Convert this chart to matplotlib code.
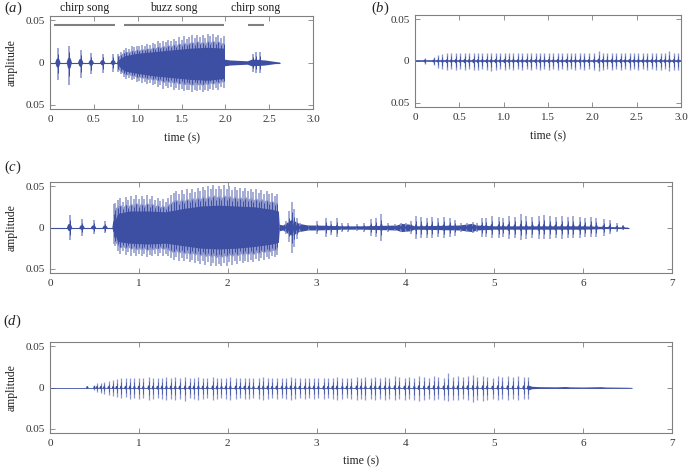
import numpy as np
import matplotlib
matplotlib.use("Agg")
import matplotlib.pyplot as plt
import matplotlib.transforms as mtransforms

plt.rcParams['font.family'] = ['Liberation Serif', 'DejaVu Serif']
plt.rcParams['mathtext.fontset'] = 'custom'
plt.rcParams['mathtext.rm'] = 'Liberation Serif'
plt.rcParams['mathtext.it'] = 'Liberation Serif:italic'

DARK = '#3c4fa3'
LIGHT = '#8e97cc'
GRAY = '#808080'

# ---------------- panel (a) ----------------
a_chirp_t = [0.09, 0.22, 0.35, 0.47, 0.60, 0.72, 2.31, 2.35, 2.39]
a_chirp_up = [0.017, 0.020, 0.015, 0.011, 0.010, 0.010, 0.010, 0.013, 0.012]
a_chirp_dn = [-0.021, -0.027, -0.018, -0.014, -0.012, -0.011, -0.011, -0.012, -0.013]

a_buzz_t = [0.78, 0.81, 0.84, 0.87, 0.90, 0.93, 0.96, 0.99, 1.02, 1.05,
            1.08, 1.11, 1.14, 1.17, 1.20, 1.23, 1.26, 1.29, 1.32, 1.35,
            1.38, 1.41, 1.44, 1.47, 1.50, 1.53, 1.56, 1.59, 1.62, 1.65,
            1.68, 1.71, 1.74, 1.77, 1.80, 1.83, 1.86, 1.89, 1.92, 1.95, 1.98]
a_buzz_up = [0.010, 0.013, 0.015, 0.017, 0.016, 0.019, 0.018, 0.020, 0.019, 0.021,
             0.020, 0.022, 0.021, 0.023, 0.022, 0.025, 0.023, 0.026, 0.024, 0.027,
             0.025, 0.028, 0.026, 0.030, 0.027, 0.031, 0.028, 0.030, 0.032, 0.029,
             0.033, 0.030, 0.032, 0.029, 0.034, 0.031, 0.034, 0.030, 0.033, 0.029, 0.031]
a_buzz_dn = [-0.011, -0.014, -0.017, -0.019, -0.018, -0.021, -0.020, -0.023, -0.022, -0.024,
             -0.023, -0.026, -0.024, -0.027, -0.025, -0.029, -0.027, -0.031, -0.028, -0.030,
             -0.029, -0.032, -0.030, -0.033, -0.031, -0.034, -0.032, -0.033, -0.035, -0.032,
             -0.034, -0.033, -0.035, -0.032, -0.034, -0.031, -0.033, -0.030, -0.032, -0.029, -0.030]
a_core_t = [0.76, 0.80, 0.85, 1.00, 1.20, 1.40, 1.60, 1.80, 1.98, 1.99]
a_core_up = [0.001, 0.005, 0.008, 0.011, 0.013, 0.015, 0.017, 0.018, 0.017, 0.003]
a_core_dn = [-0.001, -0.006, -0.010, -0.013, -0.016, -0.018, -0.020, -0.021, -0.019, -0.003]
a_noise_t = [1.99, 2.05, 2.15, 2.25, 2.30, 2.45, 2.55, 2.62]
a_noise_amp = [0.004, 0.003, 0.0025, 0.002, 0.004, 0.003, 0.0015, 0.0005]
a_end = 2.62
a_seg_names = ['chirp song', 'buzz song', 'chirp song']
a_seg_start = [0.05, 0.84, 2.26]
a_seg_end = [0.74, 1.99, 2.44]

# ---------------- panel (b) ----------------
b_t = [0.11, 0.21, 0.26, 0.31, 0.36, 0.41, 0.46, 0.51, 0.56, 0.61,
       0.66, 0.71, 0.76, 0.81, 0.86, 0.91, 0.96, 1.01, 1.06, 1.11,
       1.16, 1.21, 1.26, 1.31, 1.36, 1.41, 1.46, 1.51, 1.56, 1.61,
       1.66, 1.71, 1.76, 1.81, 1.86, 1.91, 1.96, 2.02, 2.07, 2.12,
       2.17, 2.22, 2.27, 2.32, 2.37, 2.42, 2.47, 2.52, 2.57, 2.62,
       2.67, 2.72, 2.77, 2.82, 2.87, 2.92, 2.97]
b_up = [0.004, 0.005, 0.007, 0.008, 0.009, 0.009, 0.010, 0.009, 0.010, 0.009,
        0.010, 0.009, 0.010, 0.009, 0.010, 0.010, 0.009, 0.010, 0.009, 0.010,
        0.009, 0.010, 0.009, 0.010, 0.009, 0.010, 0.009, 0.010, 0.009, 0.010,
        0.009, 0.010, 0.009, 0.010, 0.009, 0.010, 0.009, 0.010, 0.012, 0.010,
        0.009, 0.010, 0.009, 0.010, 0.009, 0.010, 0.009, 0.010, 0.009, 0.010,
        0.009, 0.010, 0.010, 0.009, 0.012, 0.010, 0.010]
b_dn = [-0.003, -0.005, -0.008, -0.010, -0.011, -0.010, -0.011, -0.010, -0.011, -0.010,
        -0.011, -0.011, -0.010, -0.011, -0.012, -0.011, -0.010, -0.011, -0.010, -0.011,
        -0.010, -0.011, -0.010, -0.011, -0.010, -0.011, -0.010, -0.011, -0.010, -0.011,
        -0.010, -0.011, -0.010, -0.011, -0.010, -0.011, -0.010, -0.011, -0.012, -0.011,
        -0.010, -0.011, -0.010, -0.011, -0.010, -0.011, -0.010, -0.011, -0.010, -0.011,
        -0.010, -0.011, -0.011, -0.010, -0.012, -0.011, -0.011]

# ---------------- panel (c) ----------------
c_chirp_t = [0.22, 0.36, 0.49, 0.62]
c_chirp_up = [0.015, 0.010, 0.009, 0.008]
c_chirp_dn = [-0.015, -0.010, -0.008, -0.007]
c_buzz_t = [0.73, 0.76, 0.79, 0.82, 0.85, 0.88, 0.91, 0.94, 0.97, 1.00,
            1.03, 1.06, 1.09, 1.12, 1.15, 1.18, 1.21, 1.24, 1.27, 1.30,
            1.33, 1.36, 1.39, 1.42, 1.45, 1.48, 1.51, 1.54, 1.57, 1.60,
            1.63, 1.66, 1.69, 1.72, 1.75, 1.78, 1.81, 1.84, 1.87, 1.90,
            1.93, 1.96, 1.99, 2.02, 2.05, 2.08, 2.11, 2.14, 2.17, 2.20,
            2.23, 2.26, 2.29, 2.32, 2.35, 2.38, 2.41, 2.44, 2.47, 2.50,
            2.53, 2.56]
c_buzz_up = [0.030, 0.033, 0.036, 0.031, 0.037, 0.033, 0.038, 0.034, 0.039, 0.035,
             0.038, 0.034, 0.039, 0.035, 0.038, 0.033, 0.036, 0.032, 0.035, 0.031,
             0.036, 0.039, 0.042, 0.044, 0.040, 0.045, 0.041, 0.046, 0.042, 0.047,
             0.043, 0.048, 0.044, 0.049, 0.045, 0.050, 0.046, 0.051, 0.047, 0.050,
             0.046, 0.051, 0.047, 0.050, 0.045, 0.049, 0.045, 0.048, 0.044, 0.048,
             0.044, 0.047, 0.043, 0.046, 0.042, 0.045, 0.041, 0.044, 0.040, 0.042,
             0.038, 0.040]
c_buzz_dn = [-0.022, -0.028, -0.032, -0.029, -0.033, -0.030, -0.034, -0.031, -0.035, -0.032,
             -0.035, -0.032, -0.036, -0.033, -0.035, -0.032, -0.034, -0.031, -0.034, -0.032,
             -0.035, -0.037, -0.039, -0.036, -0.040, -0.037, -0.041, -0.038, -0.042, -0.039,
             -0.043, -0.040, -0.044, -0.041, -0.045, -0.042, -0.046, -0.043, -0.047, -0.044,
             -0.046, -0.043, -0.046, -0.042, -0.045, -0.041, -0.044, -0.040, -0.043, -0.040,
             -0.042, -0.039, -0.042, -0.038, -0.041, -0.037, -0.039, -0.036, -0.038, -0.035,
             -0.036, -0.033]
c_core_t = [0.72, 0.76, 0.90, 1.10, 1.30, 1.50, 1.70, 1.90, 2.10, 2.30, 2.50, 2.57, 2.58]
c_core_up = [0.005, 0.017, 0.020, 0.020, 0.019, 0.023, 0.026, 0.027, 0.026, 0.025, 0.022, 0.020, 0.003]
c_core_dn = [-0.005, -0.017, -0.019, -0.020, -0.019, -0.022, -0.025, -0.026, -0.025, -0.023, -0.020, -0.018, -0.003]
c_pulse_t = [0.72, 2.66, 2.69, 2.72, 2.75, 2.78, 2.81,
             2.92, 3.01, 3.11, 3.16, 3.23, 3.29, 3.35, 3.46, 3.53, 3.61,
             3.67, 3.73, 3.80, 3.88, 3.95, 4.01, 4.06, 4.12, 4.18, 4.24,
             4.30, 4.37, 4.43, 4.50, 4.56, 4.62, 4.69, 4.76, 4.81, 4.86,
             4.91, 4.97, 5.05, 5.10, 5.16, 5.23, 5.30, 5.36, 5.43, 5.50,
             5.56, 5.63, 5.69, 5.76, 5.83, 5.89, 5.96, 6.02, 6.09, 6.15,
             6.23, 6.30, 6.38, 6.45]
c_pulse_up = [0.028, 0.008, 0.020, 0.031, 0.022, 0.012, 0.006,
              0.003, 0.008, 0.012, 0.008, 0.011, 0.006, 0.005, 0.004, 0.006, 0.010,
              0.012, 0.016, 0.005, 0.004, 0.005, 0.006, 0.008, 0.014, 0.013, 0.012,
              0.013, 0.011, 0.013, 0.012, 0.009, 0.005, 0.006, 0.007, 0.006, 0.011,
              0.012, 0.014, 0.013, 0.012, 0.014, 0.013, 0.016, 0.014, 0.013, 0.014,
              0.015, 0.014, 0.013, 0.014, 0.013, 0.014, 0.013, 0.012, 0.013, 0.011,
              0.010, 0.009, 0.006, 0.003]
c_pulse_dn = [-0.020, -0.008, -0.018, -0.031, -0.024, -0.014, -0.006,
              -0.003, -0.008, -0.012, -0.009, -0.012, -0.006, -0.005, -0.004, -0.006, -0.010,
              -0.012, -0.016, -0.005, -0.004, -0.005, -0.006, -0.008, -0.014, -0.013, -0.013,
              -0.013, -0.012, -0.013, -0.012, -0.010, -0.005, -0.006, -0.007, -0.006, -0.011,
              -0.012, -0.013, -0.013, -0.012, -0.014, -0.013, -0.015, -0.014, -0.013, -0.014,
              -0.014, -0.014, -0.013, -0.014, -0.013, -0.013, -0.013, -0.012, -0.012, -0.011,
              -0.010, -0.008, -0.006, -0.003]
c_noise_t = [2.58, 2.62, 2.66, 2.72, 2.80, 2.90, 3.00, 3.30, 3.50, 3.90, 3.95, 4.05,
             4.10, 4.60, 4.75, 4.80, 5.00, 6.00, 6.50]
c_noise_amp = [0.004, 0.003, 0.006, 0.010, 0.005, 0.003, 0.003, 0.002, 0.002, 0.003, 0.005, 0.004,
               0.002, 0.003, 0.005, 0.003, 0.002, 0.002, 0.0005]
c_end = 6.52

# ---------------- panel (d) ----------------
d_t = [0.42, 0.50, 0.53, 0.57, 0.61, 0.66, 0.71, 0.75, 0.80, 0.85,
       0.90, 0.95, 1.00, 1.05, 1.11, 1.16, 1.21, 1.26, 1.31, 1.36,
       1.41, 1.46, 1.52, 1.57, 1.62, 1.67, 1.72, 1.77, 1.83, 1.88,
       1.93, 1.98, 2.03, 2.09, 2.14, 2.19, 2.24, 2.29, 2.35, 2.40,
       2.45, 2.50, 2.55, 2.61, 2.66, 2.71, 2.76, 2.81, 2.87, 2.92,
       2.97, 3.02, 3.08, 3.13, 3.18, 3.23, 3.29, 3.34, 3.39, 3.45,
       3.50, 3.55, 3.61, 3.66, 3.71, 3.77, 3.82, 3.88, 3.93, 3.99,
       4.04, 4.10, 4.15, 4.21, 4.26, 4.32, 4.37, 4.43, 4.48, 4.54,
       4.59, 4.65, 4.70, 4.76, 4.81, 4.87, 4.92, 4.98, 5.04, 5.09,
       5.15, 5.21, 5.27, 5.33, 5.38]
d_up = [0.001, 0.003, 0.005, 0.006, 0.007, 0.008, 0.009, 0.010, 0.012, 0.011,
        0.012, 0.011, 0.012, 0.011, 0.013, 0.012, 0.011, 0.012, 0.013, 0.012,
        0.013, 0.012, 0.013, 0.011, 0.012, 0.013, 0.012, 0.011, 0.013, 0.012,
        0.011, 0.012, 0.013, 0.012, 0.011, 0.012, 0.012, 0.011, 0.012, 0.013,
        0.012, 0.011, 0.012, 0.011, 0.012, 0.013, 0.012, 0.011, 0.012, 0.011,
        0.012, 0.011, 0.012, 0.011, 0.012, 0.013, 0.012, 0.011, 0.012, 0.013,
        0.012, 0.013, 0.012, 0.013, 0.012, 0.013, 0.012, 0.014, 0.013, 0.012,
        0.013, 0.012, 0.014, 0.013, 0.012, 0.014, 0.013, 0.012, 0.017, 0.013,
        0.014, 0.013, 0.014, 0.015, 0.013, 0.014, 0.013, 0.012, 0.014, 0.013,
        0.014, 0.013, 0.014, 0.013, 0.013]
d_dn = [-0.001, -0.003, -0.005, -0.007, -0.008, -0.009, -0.010, -0.011, -0.013, -0.012,
        -0.014, -0.013, -0.014, -0.013, -0.015, -0.014, -0.013, -0.014, -0.015, -0.014,
        -0.015, -0.014, -0.016, -0.013, -0.014, -0.015, -0.014, -0.013, -0.015, -0.014,
        -0.013, -0.014, -0.015, -0.014, -0.013, -0.014, -0.014, -0.013, -0.014, -0.015,
        -0.014, -0.013, -0.014, -0.013, -0.014, -0.015, -0.014, -0.013, -0.014, -0.013,
        -0.014, -0.013, -0.014, -0.013, -0.014, -0.015, -0.014, -0.013, -0.014, -0.015,
        -0.014, -0.015, -0.014, -0.015, -0.014, -0.015, -0.014, -0.015, -0.014, -0.015,
        -0.014, -0.015, -0.016, -0.015, -0.014, -0.015, -0.014, -0.015, -0.016, -0.015,
        -0.015, -0.014, -0.015, -0.018, -0.015, -0.016, -0.015, -0.014, -0.015, -0.014,
        -0.015, -0.014, -0.015, -0.014, -0.014]
d_noise_t = [5.38, 5.42, 5.50, 5.70, 5.80, 5.85, 6.00, 6.20, 6.25, 6.50, 6.55]
d_noise_amp = [0.003, 0.0015, 0.001, 0.0008, 0.0012, 0.0008, 0.0006, 0.001, 0.0006, 0.0003, 0.0001]
d_end = 6.55

ytick_vals = [-0.05, 0, 0.05]
ytick_labels = ['0.05', '0', '0.05']
ab_xticks = [0, 0.5, 1.0, 1.5, 2.0, 2.5, 3.0]
ab_xlabels = ['0', '0.5', '1.0', '1.5', '2.0', '2.5', '3.0']
cd_xticks = [0, 1, 2, 3, 4, 5, 6, 7]
cd_xlabels = ['0', '1', '2', '3', '4', '5', '6', '7']


def style_axes(ax, xlim, xticks, xlabels):
    ax.set_xlim(*xlim)
    ax.set_ylim(-0.055, 0.055)
    ax.set_xticks(xticks)
    ax.set_xticklabels(xlabels)
    ax.set_yticks(ytick_vals)
    ax.set_yticklabels(ytick_labels)
    ax.tick_params(direction='in', top=True, right=True, length=3.5, width=0.6,
                   color=GRAY, labelsize=8, labelcolor='#333333', pad=4)
    for s in ax.spines.values():
        s.set_color(GRAY)
        s.set_linewidth(0.8)


def draw_baseline(ax, t1, lw=0.8):
    ax.plot([0, t1], [0, 0], color=DARK, lw=lw, zorder=2, solid_capstyle='butt')


def draw_noise(ax, t, amp):
    amp = np.asarray(amp)
    ax.fill_between(t, -amp, amp, color=DARK, lw=0, zorder=3)


def draw_pulses(ax, t, up, dn, w, cf, lw):
    ax.vlines(t, dn, up, color=LIGHT, lw=lw, zorder=3)
    for ti, u, d in zip(t, up, dn):
        cu = max(u * cf, 0.0018)
        cd = min(d * cf, -0.0018)
        ax.fill([ti - w, ti - w / 2, ti, ti + w / 2, ti + w, ti + w / 2, ti, ti - w / 2],
                [0, cu * 0.8, cu, cu * 0.8, 0, cd * 0.8, cd, cd * 0.8],
                color=DARK, lw=0, zorder=4)
        ax.vlines([ti], [d * 0.6], [u * 0.6], color=DARK, lw=lw * 0.6, zorder=4)


def draw_buzz(ax, st, su, sd, ct, cu, cd):
    su = np.asarray(su)
    sd = np.asarray(sd)
    # light spiky outer band: valleys filled, spikes drawn as lines
    ax.fill_between(st, sd * 0.78, su * 0.78, color=LIGHT, lw=0, zorder=3)
    ax.vlines(st, sd, su, color=LIGHT, lw=1.1, zorder=3)
    # dark core with ragged spikes
    ax.fill_between(ct, cd, cu, color=DARK, lw=0, zorder=4)
    ax.vlines(st, sd * 0.72, su * 0.72, color=DARK, lw=0.7, zorder=4)


fig = plt.figure(figsize=(6.89, 4.70), dpi=100)
W, H = 689, 470


def add_ax(l, t, r, b):
    return fig.add_axes([l / W, 1 - b / H, (r - l) / W, (b - t) / H])


ax_a = add_ax(50, 16, 313, 109)
ax_b = add_ax(415, 15, 681, 107)
ax_c = add_ax(50, 182, 672, 273)
ax_d = add_ax(50, 342, 672, 433)

# (a)
draw_baseline(ax_a, a_end)
draw_buzz(ax_a, a_buzz_t, a_buzz_up, a_buzz_dn, a_core_t, a_core_up, a_core_dn)
draw_pulses(ax_a, a_chirp_t, a_chirp_up, a_chirp_dn, 0.03, 0.3, 1.2)
draw_noise(ax_a, a_noise_t, a_noise_amp)
style_axes(ax_a, (0, 3.0), ab_xticks, ab_xlabels)
trans_a = mtransforms.blended_transform_factory(ax_a.transData, ax_a.transAxes)
for name, s0, s1 in zip(a_seg_names, a_seg_start, a_seg_end):
    ax_a.plot([s0, s1], [0.044, 0.044], color=GRAY, lw=1.5, solid_capstyle='butt')
    ax_a.text((s0 + s1) / 2, 1.086, name, transform=trans_a, ha='center', va='center',
              fontsize=8.5, color='#222222')
ax_a.set_xlabel('time (s)', fontsize=8.5, color='#222222')
ax_a.xaxis.set_label_coords(0.5, -0.25)
ax_a.set_ylabel('amplitude', fontsize=8.5, color='#222222')
ax_a.yaxis.set_label_coords(-0.122, 0.5)

# (b)
draw_baseline(ax_b, 3.0, lw=1.2)
draw_pulses(ax_b, b_t, b_up, b_dn, 0.016, 0.25, 1.0)
style_axes(ax_b, (0, 3.0), ab_xticks, ab_xlabels)
ax_b.set_xlabel('time (s)', fontsize=8.5, color='#222222')
ax_b.xaxis.set_label_coords(0.5, -0.25)

# (c)
draw_baseline(ax_c, c_end)
draw_pulses(ax_c, c_chirp_t, c_chirp_up, c_chirp_dn, 0.03, 0.3, 1.2)
draw_buzz(ax_c, c_buzz_t, c_buzz_up, c_buzz_dn, c_core_t, c_core_up, c_core_dn)
draw_noise(ax_c, c_noise_t, c_noise_amp)
draw_pulses(ax_c, c_pulse_t, c_pulse_up, c_pulse_dn, 0.018, 0.3, 1.1)
style_axes(ax_c, (0, 7), cd_xticks, cd_xlabels)
ax_c.set_ylabel('amplitude', fontsize=8.5, color='#222222')
ax_c.yaxis.set_label_coords(-0.0514, 0.5)

# (d)
draw_baseline(ax_d, d_end, lw=0.6)
draw_pulses(ax_d, d_t, d_up, d_dn, 0.014, 0.2, 0.9)
draw_noise(ax_d, d_noise_t, d_noise_amp)
style_axes(ax_d, (0, 7), cd_xticks, cd_xlabels)
ax_d.set_ylabel('amplitude', fontsize=8.5, color='#222222')
ax_d.yaxis.set_label_coords(-0.0514, 0.5)
ax_d.set_xlabel('time (s)', fontsize=8.5, color='#222222')
ax_d.xaxis.set_label_coords(0.5, -0.25)

# panel labels
for lab, x, y in [('a', 4, 8.3), ('b', 371, 8.3), ('c', 4, 167.3), ('d', 3, 321.7)]:
    fig.text(x / W, 1 - y / H, '(' + r'$\it{' + lab + '}$' + ')', ha='left', va='center',
             fontsize=10.5, color='#222222')

fig.savefig('out.png', dpi=100)
